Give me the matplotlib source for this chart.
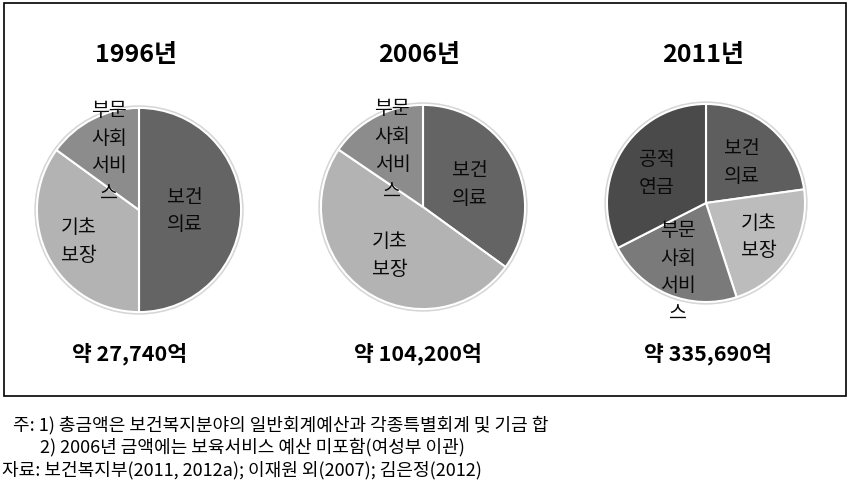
import numpy as np
import matplotlib
matplotlib.use('Agg')
import matplotlib.pyplot as plt
from matplotlib.patches import Rectangle, Circle

plt.rcParams['font.family'] = ['Noto Sans CJK KR', 'DejaVu Sans']

# data (shares in %)
years = ['1996년', '2006년', '2011년']
totals = ['약 27,740억', '약 104,200억', '약 335,690억']

labels_1996 = ['보건\n의료', '기초\n보장', '부문\n사회\n서비\n스']
shares_1996 = [50.0, 35.0, 15.0]

labels_2006 = ['보건\n의료', '기초\n보장', '부문\n사회\n서비\n스']
shares_2006 = [35.0, 49.5, 15.5]

labels_2011 = ['보건\n의료', '기초\n보장', '부문\n사회\n서비\n스', '공적\n연금']
shares_2011 = [22.8, 22.2, 22.5, 32.5]

notes = [
    '주: 1) 총금액은 보건복지분야의 일반회계예산과 각종특별회계 및 기금 합',
    '2) 2006년 금액에는 보육서비스 예산 미포함(여성부 이관)',
    '자료: 보건복지부(2011, 2012a); 이재원 외(2007); 김은정(2012)',
]

W, H = 863, 489
fig = plt.figure(figsize=(W / 100, H / 100), dpi=100)

# outer frame
fig.patches.append(Rectangle((4 / W, 1 - 397 / H), 842 / W, 393 / H,
                             transform=fig.transFigure, fill=False,
                             edgecolor='black', linewidth=1.2))

pies = [
    dict(labels=labels_1996, shares=shares_1996,
         colors=['#646464', '#b3b3b3', '#8c8c8c'],
         dist=[0.45, 0.66, 0.65], center=(139, 211), r=1.0),
    dict(labels=labels_2006, shares=shares_2006,
         colors=['#646464', '#b3b3b3', '#8c8c8c'],
         dist=[0.51, 0.57, 0.64], center=(423, 208), r=1.0),
    dict(labels=labels_2011, shares=shares_2011,
         colors=['#5e5e5e', '#bcbcbc', '#7a7a7a', '#4a4a4a'],
         dist=[0.54, 0.61, 0.72, 0.57], center=(706, 204), r=0.97),
]

size = 245  # px, axes box; radius 1 ~ 102 px
for p in pies:
    cx, cy = p['center']
    ax = fig.add_axes([(cx - size / 2) / W, 1 - (cy + size / 2) / H, size / W, size / H])
    ax.add_patch(Circle((0, 0), p['r'] + 0.012, facecolor='none',
                        edgecolor='#d6d6d6', linewidth=2.0, zorder=0))
    wedges, _ = ax.pie(p['shares'], colors=p['colors'], startangle=90,
                       counterclock=False, radius=p['r'],
                       wedgeprops=dict(edgecolor='white', linewidth=1.5))
    ax.set_xlim(-1.2, 1.2)
    ax.set_ylim(-1.2, 1.2)
    ax.set_aspect('equal')
    ax.axis('off')
    for w, lab, d in zip(wedges, p['labels'], p['dist']):
        ang = np.deg2rad((w.theta1 + w.theta2) / 2)
        ax.text(d * np.cos(ang), d * np.sin(ang), lab, ha='center', va='center',
                fontsize=14, linespacing=1.42, color='#0a0a0a', clip_on=False)

# titles and totals
title_x = [136, 419, 703]
total_x = [130, 418, 708]
for t, x in zip(years, title_x):
    fig.text(x / W, 1 - 55 / H, t, ha='center', va='center',
             fontsize=18, fontweight='bold')
for t, x in zip(totals, total_x):
    fig.text(x / W, 1 - 354 / H, t, ha='center', va='center',
             fontsize=15.5, fontweight='bold')

# footnotes
note_x = [13, 40, 2]
for i, (line, x) in enumerate(zip(notes, note_x)):
    fig.text(x / W, 1 - (425 + 22.5 * i) / H, line, ha='left', va='center',
             fontsize=13)

fig.savefig('out.png', dpi=100)
